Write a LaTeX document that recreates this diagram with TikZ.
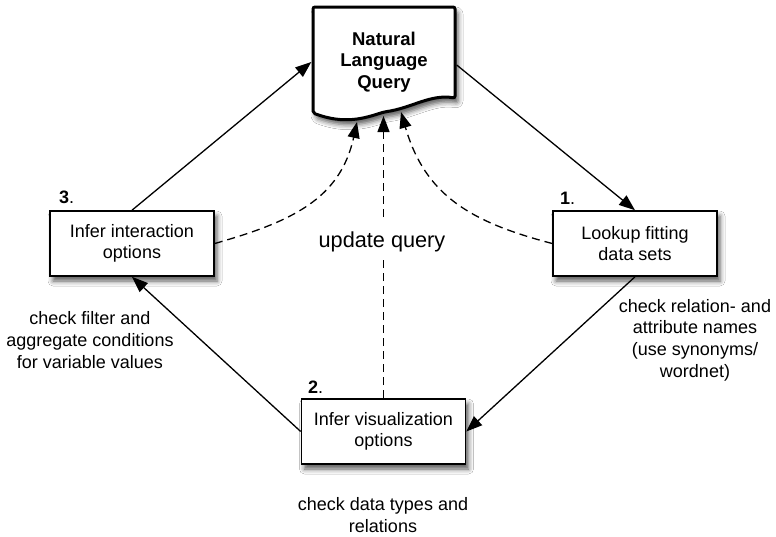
\documentclass[tikz,border=0pt]{standalone}
\usepackage{fontspec}
\setmainfont{Liberation Sans}
\usetikzlibrary{arrows.meta,shadows.blur,calc}
\begin{document}
\begin{tikzpicture}[x=1pt,y=-1pt,
  txt/.style={font=\fontsize{18}{21.7}\selectfont, align=center, inner sep=0pt},
  myshadow/.style={blur shadow={shadow xshift=3pt, shadow yshift=-5pt, shadow blur radius=5pt, shadow opacity=65}},
  stepbox/.style={draw=black, line width=1.6pt, fill=white, minimum width=164pt, minimum height=65pt, inner sep=0pt, align=center, font=\fontsize{18}{21.5}\selectfont, myshadow},
  arr/.style={draw=black, line width=1.3pt, -{Triangle[length=16pt,width=12pt,color=black,fill=black]}},
  darr/.style={arr, dash pattern=on 8pt off 5pt},
  dline/.style={line width=1.3pt, dash pattern=on 8pt off 5pt},
  numlbl/.style={font=\fontsize{18}{18}\selectfont, anchor=base west, inner sep=0pt}
]
\useasboundingbox (0,0) rectangle (776,536);
\fill[white] (0,0) rectangle (776,536);

% document shape
\draw[line width=3pt, fill=white, myshadow, rounded corners=2pt]
  (313,7) -- (455,7) -- (455,98)
  .. controls (430,94) and (412,108) .. (384,112)
  .. controls (365,118) and (345,125) .. (313,113) -- cycle;
\node[font=\bfseries\fontsize{18.5}{21.5}\selectfont, align=center, inner sep=0pt, minimum width=145pt] (doc) at (384,62) {Natural\\Language\\Query};

\coordinate (qL) at (357,122);
\coordinate (qM) at (383.5,116);
\coordinate (qR) at (401,112);

% boxes
\node[stepbox] (b3) at (132,243.5) {Infer interaction\\options};
\node[stepbox] (b1) at (635,243.5) {Lookup fitting\\data sets};
\node[stepbox] (b2) at (383.5,431.5) {Infer visualization\\options};

% number labels
\node[numlbl] (n3) at (59,203) {\textbf{3}.};
\node[numlbl] (n1) at (560,204) {\textbf{1}.};
\node[numlbl] (n2) at (308,393) {\textbf{2}.};

% annotations
\node[txt] (t3) at (90,340) {check filter and\\aggregate conditions\\for variable values};
\node[txt] (t1) at (695,340) {check relation- and\\attribute names\\(use synonyms/\\wordnet)};
\node[txt] (t2) at (383,515) {check data types and\\relations};
\node[txt, font=\fontsize{21.7}{24}\selectfont] (uq) at (382,241.5) {update query};

% solid arrows
\draw[arr] (b3.north) -- (doc.west);
\draw[arr] ([yshift=-3pt]doc.east) -- (b1.north);
\draw[arr] (b1.south) -- (b2.east);
\draw[arr] (b2.west) -- (b3.south);

% dashed arrows
\draw[darr] (b3.east) .. controls (290,222) and (340,200) .. (qL);
\draw[darr] (b1.west) .. controls (470,222) and (425,195) .. (qR);
\draw[dline] (b2.north) -- ($(b2.north |- uq.south)+(0,8.5)$);
\draw[darr] ($(b2.north |- uq.north)+(0,-14)$) -- (qM);
\end{tikzpicture}
\end{document}
